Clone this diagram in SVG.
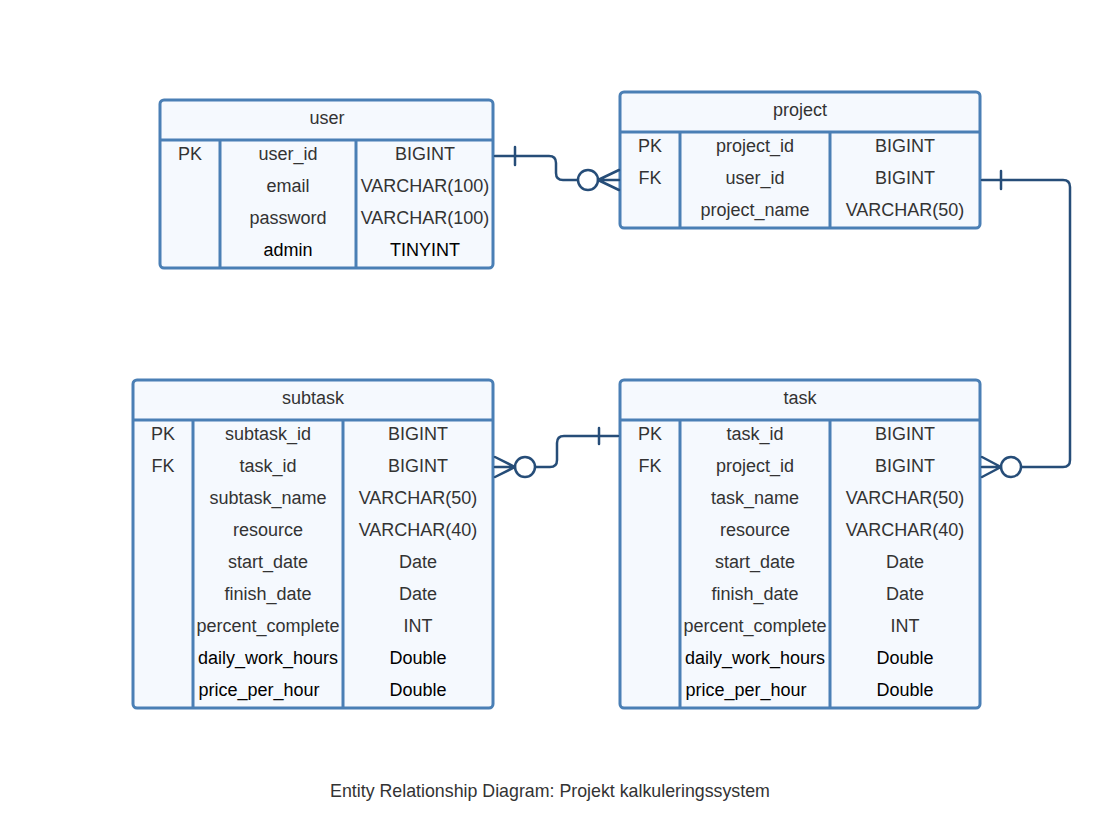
<svg xmlns="http://www.w3.org/2000/svg" width="1100" height="826" viewBox="0 0 1100 826">
<style>
.box{fill:#f5f9fe;stroke:#4a7fb5;stroke-width:3}
.ln{stroke:#4a7fb5;stroke-width:3;fill:none}
.t{font-family:"Liberation Sans",Arial,sans-serif;font-size:18px;fill:#333;text-anchor:middle;dominant-baseline:central}
.k{fill:#000}
.c{stroke:#264d78;stroke-width:2.5;fill:none;stroke-linecap:round;stroke-linejoin:round}
.o{stroke:#264d78;stroke-width:2.5;fill:#fff}
.cap{font-family:"Liberation Sans",Arial,sans-serif;font-size:17.8px;fill:#333;text-anchor:middle}
</style>
<rect width="1100" height="826" fill="#fff"/>

<g id="user">
<rect class="box" x="160" y="100" width="333" height="168" rx="4"/>
<line class="ln" x1="160" y1="140" x2="493" y2="140"/>
<line class="ln" x1="220" y1="140" x2="220" y2="268"/>
<line class="ln" x1="356" y1="140" x2="356" y2="268"/>
<text class="t" x="327" y="118">user</text>
<text class="t" x="190" y="154">PK</text>
<text class="t" x="288" y="154">user_id</text>
<text class="t" x="425" y="154">BIGINT</text>
<text class="t" x="288" y="186">email</text>
<text class="t" x="425" y="186">VARCHAR(100)</text>
<text class="t" x="288" y="218">password</text>
<text class="t" x="425" y="218">VARCHAR(100)</text>
<text class="t k" x="288" y="250">admin</text>
<text class="t k" x="425" y="250">TINYINT</text>
</g>

<g id="project">
<rect class="box" x="620" y="92" width="360" height="136" rx="4"/>
<line class="ln" x1="620" y1="132" x2="980" y2="132"/>
<line class="ln" x1="680" y1="132" x2="680" y2="228"/>
<line class="ln" x1="830" y1="132" x2="830" y2="228"/>
<text class="t" x="800" y="110">project</text>
<text class="t" x="650" y="146">PK</text>
<text class="t" x="755" y="146">project_id</text>
<text class="t" x="905" y="146">BIGINT</text>
<text class="t" x="650" y="178">FK</text>
<text class="t" x="755" y="178">user_id</text>
<text class="t" x="905" y="178">BIGINT</text>
<text class="t" x="755" y="210">project_name</text>
<text class="t" x="905" y="210">VARCHAR(50)</text>
</g>

<g id="subtask">
<rect class="box" x="133" y="380" width="360" height="328" rx="4"/>
<line class="ln" x1="133" y1="420" x2="493" y2="420"/>
<line class="ln" x1="193" y1="420" x2="193" y2="708"/>
<line class="ln" x1="343" y1="420" x2="343" y2="708"/>
<text class="t" x="313" y="398">subtask</text>
<text class="t" x="163" y="434">PK</text>
<text class="t" x="268" y="434">subtask_id</text>
<text class="t" x="418" y="434">BIGINT</text>
<text class="t" x="163" y="466">FK</text>
<text class="t" x="268" y="466">task_id</text>
<text class="t" x="418" y="466">BIGINT</text>
<text class="t" x="268" y="498">subtask_name</text>
<text class="t" x="418" y="498">VARCHAR(50)</text>
<text class="t" x="268" y="530">resource</text>
<text class="t" x="418" y="530">VARCHAR(40)</text>
<text class="t" x="268" y="562">start_date</text>
<text class="t" x="418" y="562">Date</text>
<text class="t" x="268" y="594">finish_date</text>
<text class="t" x="418" y="594">Date</text>
<text class="t" x="268" y="626">percent_complete</text>
<text class="t" x="418" y="626">INT</text>
<text class="t k" x="268" y="658">daily_work_hours</text>
<text class="t k" x="418" y="658">Double</text>
<text class="t k" x="259" y="690">price_per_hour</text>
<text class="t k" x="418" y="690">Double</text>
</g>

<g id="task">
<rect class="box" x="620" y="380" width="360" height="328" rx="4"/>
<line class="ln" x1="620" y1="420" x2="980" y2="420"/>
<line class="ln" x1="680" y1="420" x2="680" y2="708"/>
<line class="ln" x1="830" y1="420" x2="830" y2="708"/>
<text class="t" x="800" y="398">task</text>
<text class="t" x="650" y="434">PK</text>
<text class="t" x="755" y="434">task_id</text>
<text class="t" x="905" y="434">BIGINT</text>
<text class="t" x="650" y="466">FK</text>
<text class="t" x="755" y="466">project_id</text>
<text class="t" x="905" y="466">BIGINT</text>
<text class="t" x="755" y="498">task_name</text>
<text class="t" x="905" y="498">VARCHAR(50)</text>
<text class="t" x="755" y="530">resource</text>
<text class="t" x="905" y="530">VARCHAR(40)</text>
<text class="t" x="755" y="562">start_date</text>
<text class="t" x="905" y="562">Date</text>
<text class="t" x="755" y="594">finish_date</text>
<text class="t" x="905" y="594">Date</text>
<text class="t" x="755" y="626">percent_complete</text>
<text class="t" x="905" y="626">INT</text>
<text class="t k" x="755" y="658">daily_work_hours</text>
<text class="t k" x="905" y="658">Double</text>
<text class="t k" x="746" y="690">price_per_hour</text>
<text class="t k" x="905" y="690">Double</text>
</g>

<g id="connectors">
<path class="c" d="M495 156 H549 Q556 156 556 163 V173 Q556 180 563 180 H578"/>
<line class="c" x1="515" y1="147" x2="515" y2="165"/>
<circle class="o" cx="588" cy="180" r="10"/>
<path class="c" d="M598 180 L619 170 M598 180 H619 M598 180 L619 190"/>

<path class="c" d="M618 436 H564 Q557 436 557 443 V460 Q557 467 550 467 H535"/>
<line class="c" x1="599" y1="428" x2="599" y2="444"/>
<circle class="o" cx="525" cy="467" r="10"/>
<path class="c" d="M515 467 L495 457 M515 467 H495 M515 467 L495 477"/>

<path class="c" d="M982 180 H1063 Q1070 180 1070 187 V460 Q1070 467 1063 467 H1021"/>
<line class="c" x1="1001" y1="171" x2="1001" y2="189"/>
<circle class="o" cx="1011" cy="467" r="10"/>
<path class="c" d="M1001 467 L982 457 M1001 467 H982 M1001 467 L982 477"/>
</g>

<text class="cap" x="550" y="797">Entity Relationship Diagram: Projekt kalkuleringssystem</text>
</svg>
